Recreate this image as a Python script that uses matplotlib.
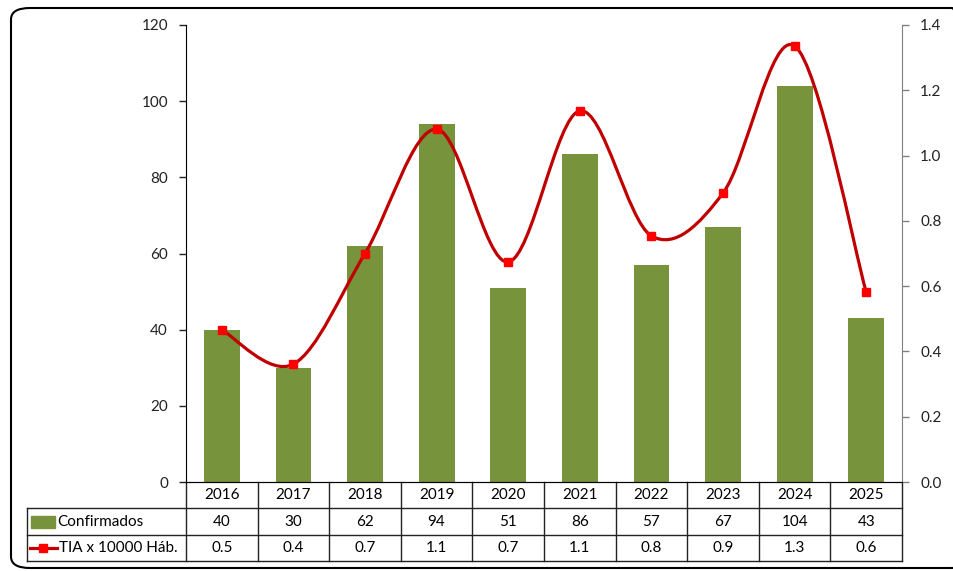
import numpy as np
import matplotlib.pyplot as plt
import matplotlib.transforms as mtransforms
from matplotlib.path import Path
from matplotlib.patches import PathPatch, FancyBboxPatch, Rectangle
from matplotlib.lines import Line2D

plt.rcParams['font.family'] = ['Lato', 'DejaVu Sans']

# data
years = ['2016', '2017', '2018', '2019', '2020', '2021', '2022', '2023', '2024', '2025']
confirmados = [40, 30, 62, 94, 51, 86, 57, 67, 104, 43]
tia = [0.466, 0.361, 0.70, 1.081, 0.674, 1.137, 0.754, 0.885, 1.336, 0.582]
tia_labels = ['0.5', '0.4', '0.7', '1.1', '0.7', '1.1', '0.8', '0.9', '1.3', '0.6']

W, H = 954, 571
fs = 11
fig = plt.figure(figsize=(W / 100, H / 100), dpi=100)
ax = fig.add_axes([186 / W, 1 - 482 / H, (902 - 186) / W, (482 - 25) / H])
ax2 = ax.twinx()

green = '#77933C'
red_line = '#C00000'
red_mark = '#FF0000'

x = np.arange(len(years))
ax.bar(x, confirmados, width=0.5, color=green, zorder=2)
ax.set_xlim(-0.5, len(years) - 0.5)
ax.set_ylim(0, 120)
ax.set_yticks(range(0, 121, 20))
ax.set_xticks([])

# smoothed line (Excel style bezier through the points)
pts = np.column_stack([x, tia])
verts = [tuple(pts[0])]
codes = [Path.MOVETO]
n = len(pts)
for i in range(n - 1):
    p0 = pts[max(i - 1, 0)]
    p1 = pts[i]
    p2 = pts[i + 1]
    p3 = pts[min(i + 2, n - 1)]
    c1 = p1 + (p2 - p0) / 6
    c2 = p2 - (p3 - p1) / 6
    verts += [tuple(c1), tuple(c2), tuple(p2)]
    codes += [Path.CURVE4] * 3
ax2.add_patch(PathPatch(Path(verts, codes), fill=False, edgecolor=red_line, lw=2.3, zorder=3))
ax2.plot(x, tia, ls='none', marker='s', ms=5.5, color=red_mark, zorder=4)
ax2.set_ylim(0, 1.4)
ax2.set_yticks(np.arange(0, 1.41, 0.2))
ax2.set_yticklabels([f'{v:.1f}' for v in np.arange(0, 1.41, 0.2)])

for a in (ax, ax2):
    a.spines['top'].set_visible(False)
    a.tick_params(labelsize=fs, length=5, width=1, colors='#222222', pad=8)
ax.spines['right'].set_visible(False)
ax2.spines['left'].set_visible(False)
ax2.spines['right'].set_color('#808080')
ax2.tick_params(axis='y', colors='#808080', labelcolor='#222222')
ax.spines['bottom'].set_color('#222222')

# data table
trans = mtransforms.blended_transform_factory(ax.transData, ax.transAxes)
ah = 482 - 25
def yf(py):
    return (482 - py) / ah

row_lines = [508, 535, 561]
lab_left = (27 - 186) / (902 - 186)
for py in row_lines:
    ax.plot([lab_left, 1], [yf(py)] * 2, transform=ax.transAxes, color='#222222', lw=1, clip_on=False)
ax.plot([lab_left] * 2, [yf(508), yf(561)], transform=ax.transAxes, color='#222222', lw=1, clip_on=False)
for i in range(len(years) + 1):
    ax.plot([i - 0.5] * 2, [0, yf(561)], transform=trans, color='#222222', lw=1, clip_on=False)

for i in range(len(years)):
    ax.text(i, yf(495), years[i], transform=trans, ha='center', va='center', fontsize=fs)
    ax.text(i, yf(521.5), str(confirmados[i]), transform=trans, ha='center', va='center', fontsize=fs)
    ax.text(i, yf(548), tia_labels[i], transform=trans, ha='center', va='center', fontsize=fs)

# legend keys in table
fig.add_artist(Rectangle((31 / W, 1 - 528 / H), 24 / W, 12 / H, color=green, transform=fig.transFigure))
fig.add_artist(Line2D([30 / W, 57 / W], [1 - 548 / H] * 2, color=red_line, lw=2.3, transform=fig.transFigure))
fig.add_artist(Line2D([43.5 / W], [1 - 548 / H], marker='s', ms=5.5, color=red_mark, transform=fig.transFigure))
fig.text(57 / W, 1 - 521.5 / H, 'Confirmados', ha='left', va='center', fontsize=fs)
fig.text(59 / W, 1 - 548 / H, 'TIA x 10000 Háb.', ha='left', va='center', fontsize=fs)

# outer rounded frame
frame = FancyBboxPatch((11 / W, 3 / H), 960 / W, (563 - 3) / H,
                       boxstyle='round,pad=0,rounding_size=0.02', transform=fig.transFigure,
                       fill=False, edgecolor='black', lw=1.5)
fig.add_artist(frame)

fig.savefig('out.png', dpi=100)
